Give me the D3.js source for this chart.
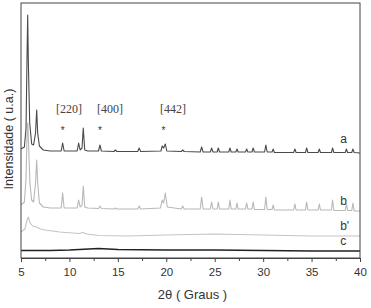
<!DOCTYPE html>
<html>
<head>
<meta charset="utf-8">
<script src="https://cdn.jsdelivr.net/npm/d3@7"></script>
<style>
  body { margin: 0; background: #fff; }
  svg { display: block; font-family: "Liberation Sans", Arial, sans-serif; }
</style>
</head>
<body>
<svg id="chart"></svg>
<script>
// XRD patterns, [2theta, intensity (a.u.)]
const seriesA = [
  [5.0,109],[5.35,111],[5.52,130],[5.62,200],[5.69,243],[5.76,195],[5.9,135],[6.1,114],[6.3,113],
  [6.5,125],[6.62,148],[6.72,125],[6.9,112],[7.3,108],[8.0,107],[9.15,107],[9.3,115],[9.45,107],
  [10.8,107],[10.95,115],[11.1,108],[11.3,110],[11.43,130],[11.58,108],[11.9,107],[13.0,107],
  [13.15,113],[13.3,107],[14.6,106.5],[14.75,108],[14.9,106.5],[17.05,106.5],[17.2,110],[17.35,106.5],
  [19.45,107],[19.58,112],[19.72,110],[19.9,114],[20.05,107],[21.55,106.5],[21.7,108],[21.85,106.5],
  [23.5,106],[23.65,111],[23.8,106],[24.55,106],[24.68,110],[24.82,106],[25.25,106],[25.37,110],
  [25.5,106],[26.45,106],[26.57,110],[26.7,106],[27.18,106],[27.3,109],[27.42,106],[28.18,106],
  [28.3,109],[28.42,106],[28.85,106],[28.97,110],[29.1,106],[30.15,106],[30.28,113],[30.42,106],
  [30.92,106],[31.04,109],[31.16,105.5],[33.15,105.5],[33.28,109],[33.4,105.5],[34.37,105.5],
  [34.49,110],[34.62,105.5],[35.68,105.5],[35.8,109],[35.92,105.5],[37.05,105.5],[37.17,110],
  [37.3,105.5],[38.48,105.5],[38.6,109],[38.72,105.5],[39.15,105.5],[39.27,109],[39.4,105.5],[40,105]
];
const seriesB = [
  [5.0,53],[5.35,56],[5.52,80],[5.62,120],[5.7,135],[5.78,115],[5.92,75],[6.1,58],[6.3,56],
  [6.5,75],[6.62,98],[6.72,75],[6.9,55],[7.3,51],[8.0,50],[9.15,50],[9.3,65],[9.45,50],
  [10.8,50],[10.95,58],[11.1,51],[11.3,53],[11.43,72],[11.58,51],[11.9,50],[13.0,49.5],
  [13.15,52],[13.3,49.5],[14.6,49],[14.75,50],[14.9,49],[17.05,49],[17.2,52],[17.35,49],
  [19.4,50],[19.58,58],[19.72,55],[19.9,65],[20.1,51],[21.55,49],[21.7,52],[21.85,49],
  [23.5,49],[23.65,61],[23.8,49],[24.55,49],[24.68,56],[24.82,49],[25.25,49],[25.37,56],
  [25.5,49],[26.45,49],[26.57,58],[26.7,49],[27.18,49],[27.3,55],[27.42,49],[28.18,49],
  [28.3,55],[28.42,49],[28.85,49],[28.97,56],[29.1,48.5],[30.15,48.5],[30.28,61],[30.42,48.5],
  [30.92,48.5],[31.04,53],[31.16,48],[33.15,48],[33.28,54],[33.4,48],[34.37,48],[34.49,56],
  [34.62,48],[35.68,48],[35.8,54],[35.92,48],[37.05,48],[37.17,58],[37.3,47.5],[38.48,47.5],
  [38.6,54],[38.72,47.5],[39.15,47.5],[39.27,55],[39.4,47],[40,47]
];
const seriesB2 = [
  [5.0,26],[5.4,29],[5.6,37],[5.75,41],[5.95,35],[6.2,32],[6.6,31],[7.0,29],[7.5,28],[9.0,26],
  [11.0,24.5],[11.4,25.5],[11.8,24],[13.0,22.5],[16.0,22],[20.0,23],[25.0,24],[30.0,23],[35.0,22],[40.0,22]
];
const seriesC = [
  [5.0,7.5],[8.0,7.5],[10.0,8],[12.0,9],[13.0,9.5],[14.0,9],[15.0,8.5],[20.0,8],[25.0,8],
  [30.0,7.5],[35.0,7],[40.0,7]
];
const seriesNames = ["a", "b", "b'", "c"];
const xTicks = [5, 10, 15, 20, 25, 30, 35, 40];
const annotLabels = ["[220]", "[400]", "[442]"];
const annotLabelX = [9.95, 14.2, 20.7];
const starX = [9.3, 13.15, 19.7];

const W = 371, H = 308;
const margin = { top: 3, right: 11, bottom: 50, left: 21 };
const width = W - margin.left - margin.right,
  height = H - margin.top - margin.bottom;

const svg = d3.select("#chart").attr("width", W).attr("height", H);
const g = svg.append("g").attr("transform", `translate(${margin.left},${margin.top})`);

const x = d3.scaleLinear().domain([5, 40]).range([0, width]);
const y = d3.scaleLinear().domain([0, height]).range([height, 0]);

const line = d3.line().x((d) => x(d[0])).y((d) => y(d[1]));

const styles = [
  { data: seriesC, color: "#222", w: 1.4 },
  { data: seriesB2, color: "#c4c4c4", w: 1.1 },
  { data: seriesB, color: "#b8b8b8", w: 1.1 },
  { data: seriesA, color: "#4a4a4a", w: 1.1 }
];
styles.forEach((s) => {
  g.append("path")
    .datum(s.data)
    .attr("d", line)
    .attr("fill", "none")
    .attr("stroke", s.color)
    .attr("stroke-width", s.w)
    .attr("stroke-linejoin", "round");
});

// frame
g.append("rect")
  .attr("x", 0).attr("y", 0)
  .attr("width", width).attr("height", height)
  .attr("fill", "none")
  .attr("stroke", "#444")
  .attr("stroke-width", 1);

// bottom axis with minor ticks
const minor = d3.range(7.5, 40, 5);
g.append("g")
  .attr("transform", `translate(0,${height})`)
  .call(d3.axisBottom(x).tickValues(minor).tickSize(3).tickFormat(""))
  .call((a) => a.select(".domain").remove())
  .selectAll("line").attr("stroke", "#444");
const xAxis = g.append("g")
  .attr("transform", `translate(0,${height})`)
  .call(d3.axisBottom(x).tickValues(xTicks).tickSize(4).tickPadding(6));
xAxis.select(".domain").attr("stroke", "#444");
xAxis.selectAll("line").attr("stroke", "#444");
xAxis.selectAll("text").attr("font-size", "11.5px").attr("fill", "#333")
  .attr("font-family", "Liberation Sans, Arial, sans-serif");

// axis titles
svg.append("text")
  .attr("x", 192.5).attr("y", 299)
  .attr("text-anchor", "middle")
  .attr("font-size", "13px").attr("fill", "#333")
  .text("2θ ( Graus )");
svg.append("text")
  .attr("transform", "rotate(-90)")
  .attr("x", -139).attr("y", 13)
  .attr("text-anchor", "middle")
  .attr("font-size", "12.5px").attr("fill", "#333")
  .text("Intensidade ( u.a.)");

// series labels
const labelY = [115, 53, 28, 13];
seriesNames.forEach((n, i) => {
  g.append("text")
    .attr("x", x(37.95)).attr("y", y(labelY[i]))
    .attr("font-size", "12px").attr("fill", "#333")
    .text(n);
});

// reflection annotations
annotLabels.forEach((t, i) => {
  g.append("text")
    .attr("x", x(annotLabelX[i])).attr("y", y(145))
    .attr("text-anchor", "middle")
    .attr("font-family", "Liberation Serif, Times New Roman, serif")
    .attr("font-size", "12px").attr("fill", "#444")
    .text(t);
});
starX.forEach((s) => {
  g.append("text")
    .attr("x", x(s)).attr("y", y(124))
    .attr("text-anchor", "middle")
    .attr("font-size", "10px").attr("fill", "#333")
    .text("*");
});
</script>
</body>
</html>
